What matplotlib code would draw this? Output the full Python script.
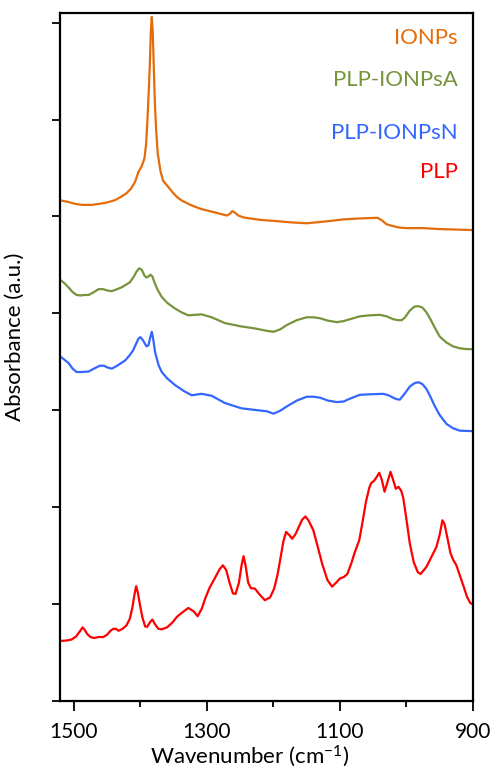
import numpy as np
import matplotlib
matplotlib.use("Agg")
import matplotlib.pyplot as plt

plt.rcParams['font.family'] = ['Lato', 'DejaVu Sans']
plt.rcParams['mathtext.fontset'] = 'custom'
plt.rcParams['mathtext.rm'] = 'Lato'
plt.rcParams['mathtext.it'] = 'Lato:italic'

# ---- data (wavenumber cm-1, absorbance a.u. offset) ----
ionps_wn = [1519.5, 1508.5, 1498, 1488, 1473, 1463, 1453, 1445, 1438, 1430, 1421, 1414, 1408,
            1403, 1398, 1394, 1391.5, 1389.5, 1387.5, 1386, 1384.5, 1383, 1381.5, 1380, 1378.5,
            1376.5, 1374, 1370, 1366, 1360, 1353, 1345, 1338, 1325, 1310, 1290, 1270, 1265,
            1262, 1258, 1253, 1245, 1220, 1200, 1175, 1150, 1120, 1095, 1070, 1050, 1043, 1037,
            1030, 1020, 1010, 1000, 975, 950, 925, 900]
ionps_ab = [5.165, 5.15, 5.13, 5.12, 5.12, 5.13, 5.14, 5.155, 5.17, 5.2, 5.24, 5.29, 5.36,
            5.46, 5.52, 5.6, 5.75, 6.0, 6.3, 6.55, 6.9, 7.06, 6.9, 6.55, 6.2,
            5.9, 5.65, 5.47, 5.37, 5.32, 5.26, 5.2, 5.165, 5.12, 5.08, 5.045, 5.01, 5.03,
            5.055, 5.04, 5.01, 4.99, 4.965, 4.955, 4.94, 4.93, 4.95, 4.97, 4.98, 4.985, 4.985, 4.96,
            4.92, 4.9, 4.885, 4.88, 4.88, 4.87, 4.865, 4.86]

plpa_wn = [1519.5, 1514, 1508.5, 1502, 1496, 1490, 1484, 1478, 1470, 1463, 1456, 1449, 1443,
           1435, 1428, 1416, 1410, 1406, 1402, 1398, 1394, 1391, 1388, 1385, 1382, 1379, 1374,
           1368, 1360, 1348, 1338, 1328, 1318, 1308, 1293, 1273, 1248, 1228, 1210, 1200, 1190,
           1180, 1165, 1150, 1140, 1130, 1118, 1105, 1095, 1085, 1070, 1055, 1040, 1030, 1020,
           1013, 1007, 1002, 995, 988, 982, 976, 970, 964, 958, 950, 940, 930, 920, 910, 900]
plpa_ab = [4.34, 4.31, 4.27, 4.22, 4.19, 4.185, 4.19, 4.19, 4.22, 4.25, 4.25, 4.235, 4.23,
           4.25, 4.27, 4.32, 4.38, 4.43, 4.465, 4.45, 4.39, 4.37, 4.38, 4.40, 4.38, 4.32, 4.24,
           4.17, 4.11, 4.05, 4.01, 3.98, 3.985, 3.99, 3.96, 3.90, 3.865, 3.845, 3.82, 3.81, 3.835,
           3.88, 3.93, 3.96, 3.96, 3.95, 3.925, 3.91, 3.92, 3.94, 3.97, 3.98, 3.985, 3.97, 3.94,
           3.93, 3.93, 3.96, 4.03, 4.07, 4.075, 4.06, 4.01, 3.94, 3.86, 3.76, 3.70, 3.66, 3.64, 3.632, 3.63]

plpn_wn = [1519.5, 1514, 1508.5, 1502, 1496, 1490, 1478, 1470, 1461, 1455, 1449, 1443, 1435,
           1423, 1416, 1411, 1407, 1403, 1400, 1396, 1391, 1388, 1385, 1383, 1381, 1378, 1373,
           1368, 1360, 1348, 1335, 1323, 1308, 1293, 1273, 1248, 1223, 1210, 1200, 1190, 1180,
           1165, 1150, 1140, 1130, 1118, 1105, 1095, 1085, 1070, 1055, 1035, 1027, 1020, 1015,
           1010, 1003, 995, 988, 982, 976, 970, 964, 958, 950, 940, 930, 920, 910, 900]
plpn_ab = [3.55, 3.52, 3.49, 3.43, 3.395, 3.395, 3.40, 3.43, 3.46, 3.46, 3.44, 3.43, 3.46,
           3.515, 3.57, 3.62, 3.68, 3.74, 3.755, 3.72, 3.66, 3.67, 3.76, 3.81, 3.74, 3.60, 3.47,
           3.395, 3.33, 3.26, 3.2, 3.155, 3.17, 3.15, 3.075, 3.02, 3.00, 2.99, 2.965, 2.995, 3.04,
           3.10, 3.14, 3.14, 3.13, 3.10, 3.085, 3.09, 3.12, 3.16, 3.165, 3.17, 3.155, 3.13, 3.115,
           3.11, 3.17, 3.245, 3.28, 3.29, 3.27, 3.22, 3.14, 3.05, 2.95, 2.86, 2.815, 2.79, 2.787, 2.785]

plp_wn = [1519.5, 1510, 1503.5, 1497, 1491, 1487, 1484, 1480, 1475, 1470, 1463, 1456, 1450,
          1445, 1441, 1437, 1433, 1427, 1421, 1416, 1412, 1409, 1406.5, 1404, 1401, 1397, 1393,
          1390, 1385, 1382, 1378, 1373, 1368, 1360, 1352, 1345, 1336, 1328, 1320, 1314, 1308,
          1302, 1296, 1288, 1281, 1276, 1271, 1266, 1261, 1257, 1252, 1248, 1245, 1242, 1238,
          1234, 1228, 1221, 1213, 1205, 1199, 1194, 1190, 1185, 1181, 1176, 1172, 1167, 1163,
          1157, 1152, 1147, 1140, 1133, 1127, 1119, 1112, 1106, 1100, 1094, 1089, 1083, 1078,
          1071, 1066, 1061, 1056, 1053, 1049, 1045, 1041, 1037, 1033, 1029, 1024, 1020, 1016,
          1012, 1008, 1005, 1000, 995, 989, 983, 979, 974, 970, 963, 955, 950, 946, 943, 939,
          934, 930, 925, 920, 914, 909, 904, 901, 900]
plp_ab = [0.62, 0.625, 0.635, 0.665, 0.72, 0.76, 0.735, 0.69, 0.66, 0.65, 0.66, 0.66, 0.685,
          0.725, 0.745, 0.745, 0.725, 0.745, 0.78, 0.85, 0.97, 1.10, 1.185, 1.12, 1.0, 0.86, 0.77,
          0.765, 0.82, 0.84, 0.79, 0.745, 0.74, 0.76, 0.81, 0.87, 0.92, 0.96, 0.925, 0.875, 0.95,
          1.07, 1.17, 1.27, 1.36, 1.40, 1.35, 1.22, 1.11, 1.105, 1.22, 1.40, 1.495, 1.40, 1.22,
          1.165, 1.16, 1.10, 1.04, 1.07, 1.16, 1.30, 1.455, 1.65, 1.745, 1.71, 1.675, 1.72, 1.78,
          1.87, 1.905, 1.86, 1.76, 1.58, 1.42, 1.25, 1.18, 1.22, 1.265, 1.28, 1.31, 1.42, 1.53,
          1.66, 1.85, 2.055, 2.2, 2.25, 2.27, 2.31, 2.355, 2.28, 2.16, 2.25, 2.365, 2.28, 2.19,
          2.21, 2.17, 2.10, 1.87, 1.625, 1.43, 1.33, 1.31, 1.35, 1.385, 1.48, 1.59, 1.72, 1.865, 1.83, 1.70,
          1.53, 1.46, 1.40, 1.30, 1.18, 1.075, 1.01, 1.00, 1.02]

labels = ['IONPs', 'PLP-IONPsA', 'PLP-IONPsN', 'PLP']
colors = ['#E46C0A', '#77933C', '#3366FF', '#FF0000']
x_major = [1500, 1300, 1100, 900]
x_minor = [1400, 1200, 1000]
y_ticks = [0, 1, 2, 3, 4, 5, 6, 7]

fig = plt.figure(figsize=(4.93, 7.71), dpi=100)
ax = fig.add_axes([60/493, 70/771, 413/493, 688/771])

series = [(ionps_wn, ionps_ab), (plpa_wn, plpa_ab), (plpn_wn, plpn_ab), (plp_wn, plp_ab)]
for (wn, ab), c in zip(series, colors):
    ax.plot(wn, ab, color=c, lw=1.6, solid_joinstyle='round', solid_capstyle='round')

ax.set_xlim(1521, 900)
ax.set_ylim(0, 7.1)
ax.set_xticks(x_major)
ax.set_xticks(x_minor, minor=True)
ax.set_yticks(y_ticks)
ax.set_yticklabels([])
ax.tick_params(axis='x', which='major', direction='out', length=7, width=1.3, labelsize=15, pad=8)
ax.tick_params(axis='x', which='minor', direction='out', length=4, width=1.3)
ax.tick_params(axis='y', direction='out', length=6, width=1.3)
for s in ax.spines.values():
    s.set_linewidth(1.6)

ax.set_xlabel(r'Wavenumber (cm$^{-1}$)', fontsize=16)
ax.set_ylabel('Absorbance (a.u.)', fontsize=16)
ax.xaxis.set_label_coords(0.46, -0.062)
ax.yaxis.set_label_coords(-0.085, 0.53)

label_y = [38, 80, 133, 172]
for lab, c, py in zip(labels, colors, label_y):
    ax.text(458/493, 1 - py/771, lab, transform=fig.transFigure, ha='right', va='center',
            color=c, fontsize=16)

fig.savefig('out.png', dpi=100)
